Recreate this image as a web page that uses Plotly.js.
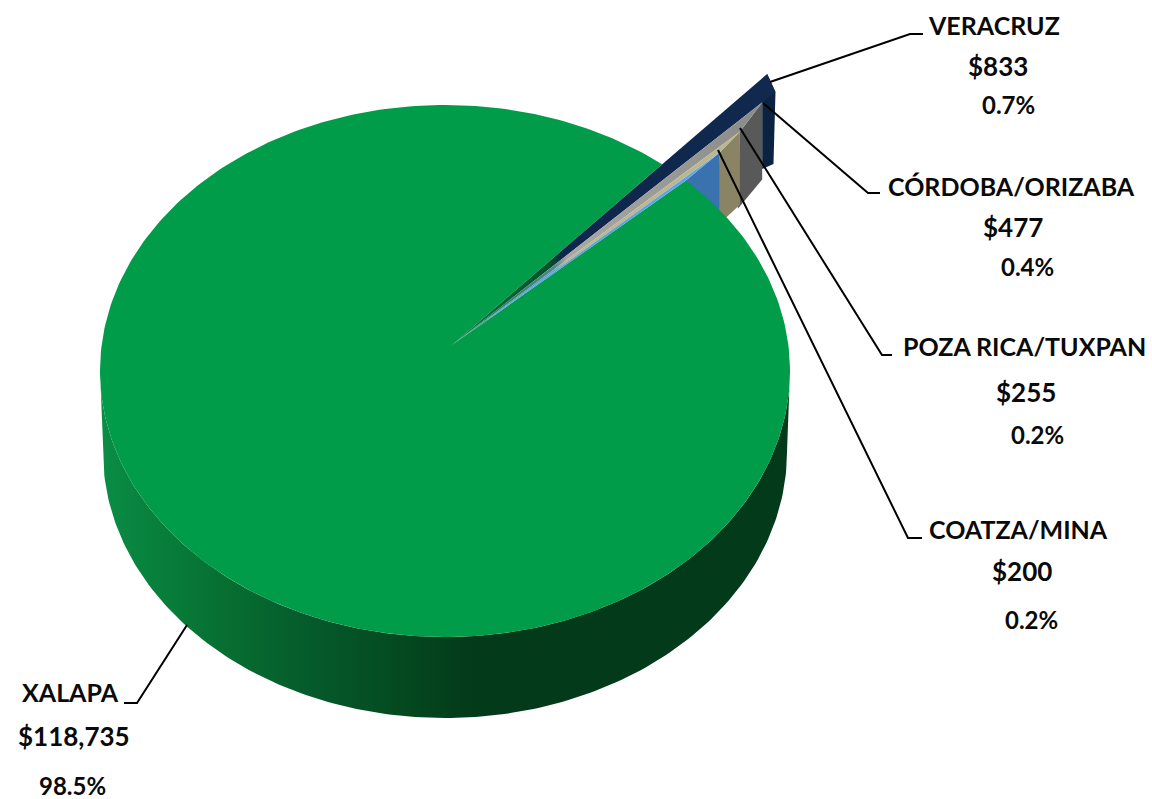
<!DOCTYPE html>
<html><head><meta charset="utf-8">
<script src="https://cdn.plot.ly/plotly-3.0.1.min.js"></script>
<style>html,body{margin:0;background:#fff}#c{width:1152px;height:799px}</style></head>
<body><div id="c"></div>
<script>
const categories=["XALAPA","VERACRUZ","CÓRDOBA/ORIZABA","POZA RICA/TUXPAN","COATZA/MINA"];
const amounts=[118735,833,477,255,200];
const percents=[98.5,0.7,0.4,0.2,0.2];

const greenTop="#009c4a";
const wallColors=["#0b2240","#595959","#8a8465","#3a72b0"];
const stripStops=[
  [[0,"#067a3c"],[0.3,"#05502c"],[0.34,"#10264c"],[1,"#10294f"]],
  [[0,"#067a3c"],[0.33,"#4f8a80"],[0.37,"#a8a8a4"],[1,"#8a8a88"]],
  [[0,"#2f8fa0"],[0.35,"#5a9fd8"],[0.4,"#bdb78f"],[1,"#bdb78f"]],
  [[0,"#009c4a"],[0.12,"#009c4a"],[0.15,"#4f9ad8"],[1,"#62a8e8"]]
];
const wallStops=[[0,"#0a8d45"],[0.18,"#066f31"],[0.32,"#05582a"],[0.43,"#044a20"],[0.54,"#033a1a"],[1,"#033a1a"]];
const pullStart=[1.5,1.4,1.263,1.156];
const pullEnd=[1.46,1.263,1.156,1.0];
const wallDepth=[72,77,73,75];
const labelSizes=[25,26,24];
const labelX=[[70,74,72],[994,998,1008],[1011,1013,1027],[1024,1026,1037],[1018,1022,1031]];
const labelY=[[692,736,785],[25,66,104],[186,227,266],[346,392,434],[529,571,619]];
const leaders=[
  [[187,625],[137,703],[124,703]],
  [[770,82],[910,34],[923,34]],
  [[763,103],[868,193],[880,193]],
  [[740,128],[882,355],[892,355]],
  [[718,150],[908,538],[922,538]]
];

const C={x:445,y:371,rx:345,ry:266};
const B={x:445,y:452,rx:342,ry:266};
const apex=[452,345];
const startDeg=51;
const rad=d=>d*Math.PI/180;
const E=(t,e=C)=>[e.x+e.rx*Math.cos(rad(t)),e.y-e.ry*Math.sin(rad(t))];
const total=amounts.reduce((a,b)=>a+b,0);
const arc=(a,b,e=C)=>{const n=Math.max(2,Math.ceil(Math.abs(b-a)));const o=[];for(let i=0;i<=n;i++)o.push(E(a+(b-a)*i/n,e));return o;};
const poly=(pts,o)=>Object.assign({type:"scatter",mode:"lines",x:pts.map(p=>p[0]),y:pts.map(p=>p[1]),fill:"toself",line:{width:0},hoverinfo:"skip",showlegend:false},o);
const pull=(t,s)=>{const e=E(t);return[apex[0]+s*(e[0]-apex[0]),apex[1]+s*(e[1]-apex[1])];};

const bounds=[startDeg];
for(let i=1;i<amounts.length;i++)bounds.push(bounds[i-1]-amounts[i]/total*360);
const greenStart=bounds[bounds.length-1];
const traces=[];
const ends=[0,1,2,3].map(i=>[pull(bounds[i],pullStart[i]),pull(bounds[i+1],pullEnd[i])]);
{
  const [a,b]=ends[0],c=ends[1][0],d=wallDepth[0];
  traces.push(poly([a,b,[b[0]-2,b[1]+d],[c[0],b[1]+d+5],c],{fillcolor:wallColors[0]}));
}
for(let i=1;i<4;i++){
  const [a,b]=ends[i],d=wallDepth[i];
  traces.push(poly([a,b,[b[0]-2,b[1]+d],[a[0],a[1]+d]],{fillcolor:wallColors[i]}));
}
traces.push(poly(arc(0,-180).concat(arc(-180,0,B)),{fillcolor:"#05401f",fillgradient:{type:"horizontal",colorscale:wallStops}}));
traces.push(poly([apex].concat(arc(greenStart,startDeg-360)),{fillcolor:greenTop}));
for(let i=0;i<4;i++){
  traces.push(poly([apex,ends[i][0],ends[i][1]],{fillcolor:wallColors[i],fillgradient:{type:"horizontal",colorscale:stripStops[i]}}));
}
for(const l of leaders){
  traces.push({type:"scatter",mode:"lines",x:l.map(p=>p[0]),y:l.map(p=>p[1]),line:{color:"#000",width:2},hoverinfo:"skip",showlegend:false});
}
const money=v=>"$"+v.toLocaleString("en-US");
const annotations=[];
categories.forEach((c,i)=>{
  [c,money(amounts[i]),percents[i].toFixed(1)+"%"].forEach((t,j)=>{
    annotations.push({text:"<b>"+t+"</b>",x:labelX[i][j],y:labelY[i][j],xref:"x",yref:"y",showarrow:false,xanchor:"center",yanchor:"middle",
      font:{family:"Lato, Liberation Sans",size:labelSizes[j],color:"#0a0a0a"}});
  });
});
Plotly.newPlot("c",traces,{width:1152,height:799,margin:{l:0,r:0,t:0,b:0},paper_bgcolor:"#fff",plot_bgcolor:"#fff",showlegend:false,
  xaxis:{range:[0,1152],visible:false,fixedrange:true},yaxis:{range:[799,0],visible:false,fixedrange:true},annotations},{displayModeBar:false,staticPlot:true});
</script></body></html>
